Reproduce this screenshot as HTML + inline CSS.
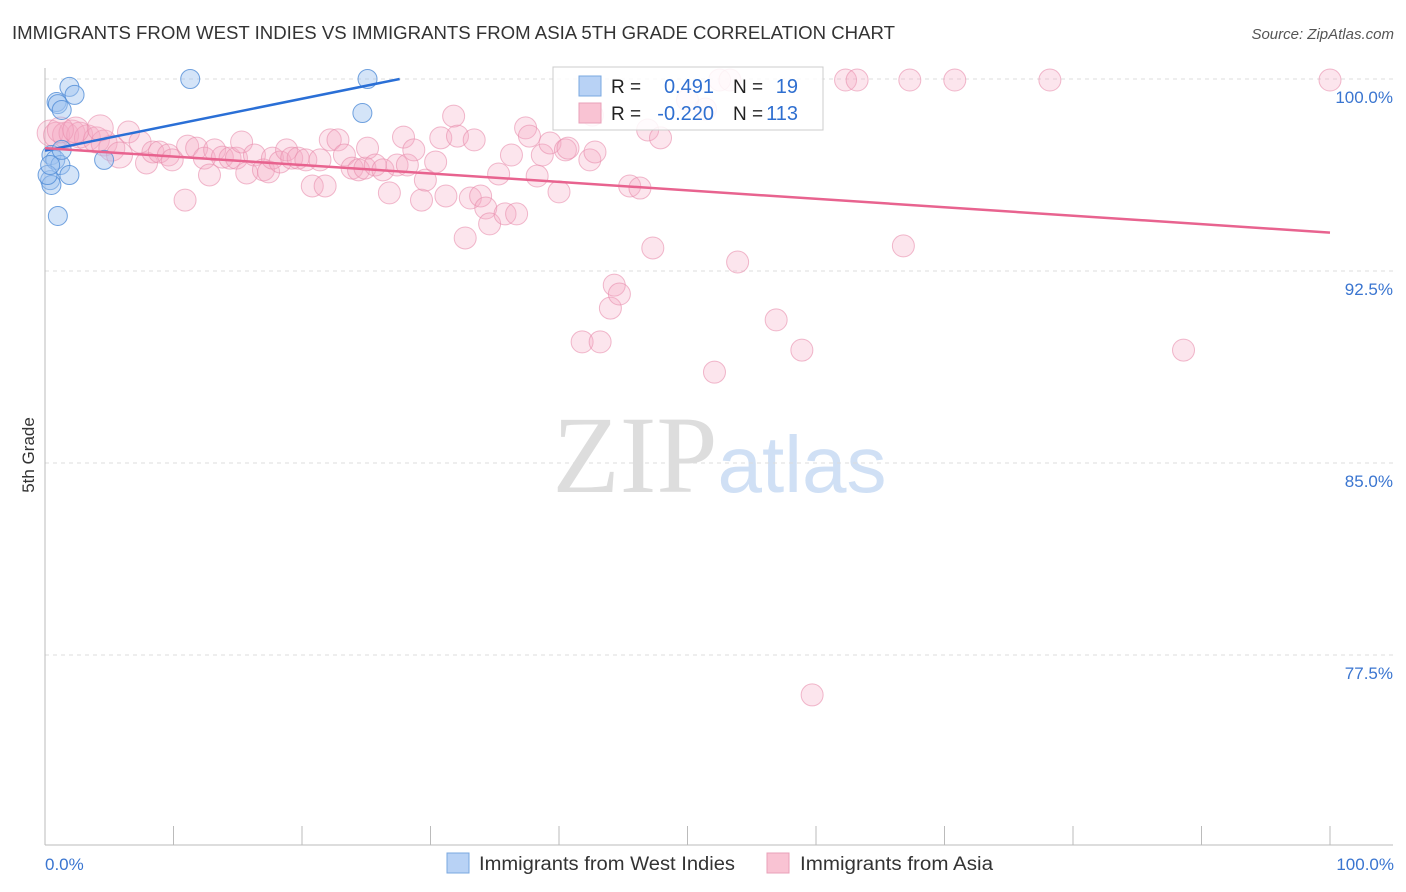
<!DOCTYPE html>
<html><head><meta charset="utf-8"><style>
body{margin:0;background:#fff;font-family:"Liberation Sans",sans-serif;}
svg{display:block}
</style></head><body>
<svg id="c" width="1406" height="892">
<text x="12" y="39" font-size="18" fill="#333" textLength="883" lengthAdjust="spacingAndGlyphs">IMMIGRANTS FROM WEST INDIES VS IMMIGRANTS FROM ASIA 5TH GRADE CORRELATION CHART</text>
<text x="1394" y="39" font-size="15" fill="#555" font-style="italic" text-anchor="end">Source: ZipAtlas.com</text>
<text x="34" y="455" font-size="17" fill="#333" transform="rotate(-90 34 455)" text-anchor="middle">5th Grade</text>
<g>
<text x="635" y="492" font-size="110" font-family="Liberation Serif,serif" fill="#ddd" text-anchor="middle">ZIP</text>
<text x="802" y="492" font-size="80" fill="#d0e0f5" text-anchor="middle">atlas</text>
</g>
<g id="grid"></g><g id="axes"></g><g id="pts"></g><g id="lines"></g>
<g>
<rect x="553" y="67" width="270" height="63" fill="#fff" fill-opacity="0.85" stroke="#ccc"/>
<rect x="579" y="76" width="22" height="20" fill="#b8d2f5" stroke="#7aa8e0"/>
<rect x="579" y="103" width="22" height="20" fill="#f9c3d3" stroke="#e9a0b8"/>
<text x="611" y="93" font-size="19" fill="#222">R =</text>
<text x="714" y="93" font-size="20" fill="#2f6fd0" text-anchor="end">0.491</text>
<text x="733" y="93" font-size="19" fill="#222">N =</text>
<text x="798" y="93" font-size="20" fill="#2f6fd0" text-anchor="end">19</text>
<text x="611" y="120" font-size="19" fill="#222">R =</text>
<text x="714" y="120" font-size="20" fill="#2f6fd0" text-anchor="end">-0.220</text>
<text x="733" y="120" font-size="19" fill="#222">N =</text>
<text x="798" y="120" font-size="20" fill="#2f6fd0" text-anchor="end">113</text>
</g>
<g>
<rect x="447" y="853" width="22" height="20" fill="#b8d2f5" stroke="#7aa8e0"/>
<text x="479" y="870" font-size="19" fill="#333" textLength="256" lengthAdjust="spacingAndGlyphs">Immigrants from West Indies</text>
</g>
<g>
<rect x="767" y="853" width="22" height="20" fill="#f9c3d3" stroke="#e9a0b8"/>
<text x="800" y="870" font-size="19" fill="#333" textLength="193" lengthAdjust="spacingAndGlyphs">Immigrants from Asia</text>
</g>
</svg>
<script>
const yTicks=[100,92.5,85,77.5];
const yTickLabels=["100.0%","92.5%","85.0%","77.5%"];
const xTickLabels=["0.0%","100.0%"];
const blueX=[1.9,2.3,0.9,1.0,1.3,11.3,25.1,24.7,4.6,0.5,0.8,1.2,1.9,0.4,0.5,0.2,1.0,1.3,0.4];
const blueY=[99.69,99.38,99.10,99.02,98.79,100,100,98.67,96.84,97.03,96.84,96.64,96.25,96.05,95.86,96.25,94.65,97.23,96.64];
const pinkX=[0.4,0.9,1.6,2.1,2.7,3.3,4.0,4.6,5.2,5.8,6.5,7.4,7.9,8.4,8.9,9.6,9.9,10.9,11.1,11.8,12.4,12.8,13.2,13.8,14.4,14.9,15.3,15.7,16.3,17.0,17.4,17.7,18.3,18.8,19.2,19.7,20.3,20.8,21.4,21.8,22.2,22.8,23.3,23.9,24.4,24.9,25.1,25.7,26.3,26.8,27.4,27.9,28.2,28.7,29.3,29.6,30.4,30.8,31.2,31.8,32.1,32.7,33.1,33.4,33.9,34.3,34.6,35.3,35.8,36.3,36.7,37.4,37.7,38.3,38.7,39.3,40.0,40.5,40.7,42.4,42.6,42.8,44.0,44.3,44.7,45.5,46.3,46.9,47.3,47.9,41.8,43.2,52.1,53.9,56.9,58.9,59.7,66.8,88.6,52.5,53.3,62.3,63.2,67.3,70.8,78.2,100,50.0,51.4,1.2,2.4,4.3];
const pinkY=[97.89,97.81,97.81,97.89,97.81,97.70,97.62,97.50,97.30,97.03,97.93,97.54,96.72,97.15,97.15,97.03,96.84,95.27,97.38,97.30,96.91,96.25,97.23,96.95,96.91,96.91,97.54,96.33,97.03,96.45,96.37,96.91,96.76,97.23,96.91,96.91,96.84,95.82,96.84,95.82,97.62,97.62,97.03,96.52,96.45,96.52,97.30,96.64,96.45,95.55,96.64,97.73,96.64,97.23,95.27,96.05,96.76,97.70,95.43,98.55,97.77,93.79,95.35,97.62,95.43,94.96,94.34,96.29,94.73,97.03,94.73,98.09,97.77,96.21,97.03,97.50,95.59,97.23,97.30,96.84,98.59,97.15,91.05,91.95,91.60,95.82,95.74,98.01,93.40,97.70,89.73,89.73,88.55,92.85,90.59,89.41,75.94,93.48,89.41,99.96,99.96,99.96,99.96,99.96,99.96,99.96,99.96,99.18,98.83,98.01,98.01,98.09];
const blueTrend=[[0,97.2],[27.6,100]];
const pinkTrend=[[0,97.3],[100,94.0]];
const NS="http://www.w3.org/2000/svg";
const X=v=>45+v*12.85, Y=v=>79+(100-v)*25.6;
function mk(t,a,p){const e=document.createElementNS(NS,t);for(const k in a)e.setAttribute(k,a[k]);document.getElementById(p).appendChild(e);return e;}
yTicks.forEach((t,i)=>{
 const g=mk('line',{x1:45,x2:1393,y1:Y(t),y2:Y(t),stroke:'#ddd','stroke-dasharray':'4 4'},'grid');
 
 
 const l=mk('text',{x:1393,y:Y(t)+24,'font-size':17,fill:'#3a75d0','text-anchor':'end'},'grid');
 
 
 l.textContent=yTickLabels[i];
});
const ax=mk('line',{x1:45,x2:45,y1:68,y2:845,stroke:'#bbb'},'axes');


const bx=mk('line',{x1:45,x2:1393,y1:845,y2:845,stroke:'#bbb'},'axes');


for(let i=0;i<=10;i++){const t=mk('line',{x1:X(i*10),x2:X(i*10),y1:826,y2:845,stroke:'#bbb'},'axes');
 
 }
[[0,'start',X(0)],[1,'end',X(100)+64]].forEach(([i,a,x])=>{const t=mk('text',{x:x,y:870,'font-size':17,fill:'#3a75d0','text-anchor':a},'axes');
 
 
 t.textContent=xTickLabels[i];});
pinkX.forEach((v,i)=>{const c=mk('circle',{cx:X(v),cy:Y(pinkY[i]),r:v<6?13:11,fill:'rgba(246,170,195,0.3)',stroke:'rgba(232,140,172,0.6)','stroke-width':1},'pts');
 
 });
blueX.forEach((v,i)=>{const c=mk('circle',{cx:X(v),cy:Y(blueY[i]),r:9.5,fill:'rgba(160,196,240,0.45)',stroke:'rgba(80,140,215,0.8)','stroke-width':1},'pts');
 
 });
const bl=mk('line',{x1:X(blueTrend[0][0]),y1:Y(blueTrend[0][1]),x2:X(blueTrend[1][0]),y2:Y(blueTrend[1][1]),stroke:'#2a6fd6','stroke-width':2.5},'lines');


const pl=mk('line',{x1:X(pinkTrend[0][0]),y1:Y(pinkTrend[0][1]),x2:X(pinkTrend[1][0]),y2:Y(pinkTrend[1][1]),stroke:'#e8638f','stroke-width':2.5},'lines');


</script>
</body></html>
